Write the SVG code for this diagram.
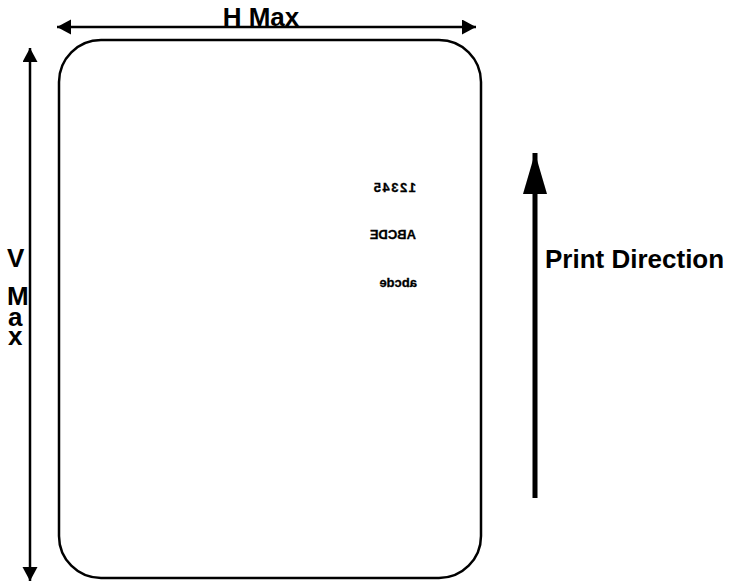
<svg xmlns="http://www.w3.org/2000/svg" width="741" height="584" viewBox="0 0 741 584">
<style>
.lbl{font-family:"Liberation Sans",Arial,sans-serif;font-weight:bold;font-size:26px;fill:#000}
.mir{font-family:"Liberation Sans",Arial,sans-serif;font-weight:bold;font-size:13px;fill:#000;stroke:#000;stroke-width:0.3}
.dim{stroke:#000;stroke-width:2.5;fill:none}
</style>
<defs>
<marker id="ah" markerUnits="userSpaceOnUse" markerWidth="16" markerHeight="16" refX="14" refY="7.5" orient="auto-start-reverse" viewBox="0 0 16 16">
<path d="M0,0 L14,7.5 L0,15 Z" fill="#000"/>
</marker>
<marker id="ahBig" markerUnits="userSpaceOnUse" markerWidth="42" markerHeight="26" refX="41" refY="12" orient="auto" viewBox="0 0 42 26">
<path d="M0,0 L41,12 L0,24 Z" fill="#000"/>
</marker>
</defs>
<rect width="741" height="584" fill="#fff"/>
<g id="card">
<rect x="59" y="40" width="422" height="538" rx="42" ry="42" fill="#fff" stroke="#000" stroke-width="2.5"/>
</g>
<g id="mirrored-text">
<text class="mir" transform="translate(416,192) scale(-1,1)" x="0" y="0" letter-spacing="1.5">12345</text>
<text class="mir" transform="translate(416,239) scale(-1,1)" x="0" y="0">ABCDE</text>
<text class="mir" transform="translate(417,287) scale(-1,1)" x="0" y="0">abcde</text>
</g>
<g id="connectors">
<line class="dim" x1="57" y1="27" x2="476" y2="27" marker-start="url(#ah)" marker-end="url(#ah)"/>
<line class="dim" x1="30" y1="48" x2="30" y2="581" marker-start="url(#ah)" marker-end="url(#ah)"/>
<line x1="535" y1="498" x2="535" y2="153" stroke="#000" stroke-width="5" marker-end="url(#ahBig)"/>
</g>
<g id="h-max-label">
<text class="lbl" x="261" y="26" text-anchor="middle">H Max</text>
</g>
<g id="v-max-label">
<text class="lbl"><tspan x="7" y="267">V</tspan><tspan x="7" y="305">M</tspan><tspan x="8" y="326">a</tspan><tspan x="8" y="345">x</tspan></text>
</g>
<g id="print-direction-label">
<text class="lbl" x="545" y="268">Print Direction</text>
</g>
</svg>
